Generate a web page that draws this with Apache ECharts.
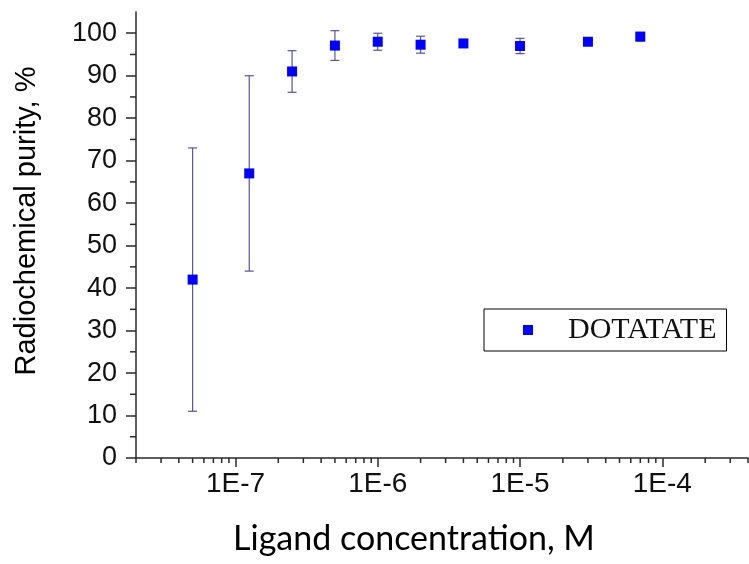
<!DOCTYPE html>
<html>
<head>
<meta charset="utf-8">
<script src="https://cdn.jsdelivr.net/npm/echarts@6/dist/echarts.min.js"></script>
<style>
  html, body { margin: 0; padding: 0; background: #fff; }
  #chart { width: 749px; height: 564px; }
</style>
</head>
<body>
<div id="chart"></div>
<script>
// data
const concentrations = [5e-8, 1.25e-7, 2.5e-7, 5e-7, 1e-6, 2e-6, 4e-6, 1e-5, 3e-5, 7e-5];
const purity = [42, 67, 91, 97.1, 98, 97.3, 97.6, 97.0, 98, 99.2];
const purityErr = [31, 23, 4.9, 3.5, 2, 2, 0.8, 1.8, 0.8, 1];

// axis ticks
const xTickValues = [1e-7, 1e-6, 1e-5, 1e-4];
const xTickLabels = ['1E-7', '1E-6', '1E-5', '1E-4'];
const xDecades = [1e-8, 1e-7, 1e-6, 1e-5, 1e-4];
const xMinorSteps = [2, 3, 4, 5, 6, 7, 8, 9];
const yTickValues = [0, 10, 20, 30, 40, 50, 60, 70, 80, 90, 100];
const yMinorValues = [5, 15, 25, 35, 45, 55, 65, 75, 85, 95];

const X_MIN = 2e-8, X_MAX = 4e-4;

const xMinorValues = [];
xDecades.forEach(d => xMinorSteps.forEach(s => {
  const v = +(d * s).toPrecision(3);
  if (v >= X_MIN && v <= X_MAX) xMinorValues.push(v);
}));

const scatterData = concentrations.map((x, i) => [x, purity[i]]);
const errData = concentrations.map((x, i) => [x, purity[i] - purityErr[i], purity[i] + purityErr[i]]);

const axisColor = '#2a2a2a';
const chart = echarts.init(document.getElementById('chart'));

const option = {
  animation: false,
  backgroundColor: '#fff',
  grid: { left: 136, right: 1, top: 12, bottom: 106, containLabel: false, outerBoundsMode: 'none' },
  legend: {
    data: ['DOTATATE'],
    left: 484, top: 309,
    orient: 'horizontal',
    icon: 'rect',
    itemWidth: 10, itemHeight: 10,
    padding: [6, 10, 6, 39],
    borderColor: '#000', borderWidth: 1,
    textStyle: {
      fontFamily: 'Liberation Serif', fontSize: 30, color: '#111',
      lineHeight: 27, padding: [0, 0, 0, 30]
    }
  },
  xAxis: {
    type: 'log', logBase: 10,
    min: X_MIN, max: X_MAX,
    name: 'Ligand concentration, M',
    nameLocation: 'middle', nameGap: 64,
    nameTextStyle: { fontFamily: 'Lato', fontSize: 34, color: '#000', padding: [0, 56, 0, 0] },
    axisLine: { lineStyle: { color: axisColor, width: 1.5 } },
    axisTick: { customValues: xTickValues, length: 9, lineStyle: { color: axisColor, width: 1.5 } },
    axisLabel: {
      customValues: xTickValues,
      margin: 12,
      fontFamily: 'Liberation Sans', fontSize: 28, color: '#111',
      formatter: v => {
        let k = 0;
        xTickValues.forEach((t, i) => { if (Math.abs(Math.log10(t) - Math.log10(v)) < 0.01) k = i; });
        return xTickLabels[k];
      }
    },
    splitLine: { show: false },
    minorTick: { show: false }
  },
  yAxis: {
    type: 'value',
    min: 0, max: 105, interval: 10,
    name: 'Radiochemical purity, %',
    nameLocation: 'middle', nameGap: 95, nameRotate: 90,
    nameTextStyle: { fontFamily: 'Liberation Sans', fontSize: 29, color: '#000', padding: [0, 0, 0, 28] },
    axisLine: { show: true, lineStyle: { color: axisColor, width: 1.5 } },
    axisTick: { show: true, customValues: yTickValues, length: 10, lineStyle: { color: axisColor, width: 1.5 } },
    axisLabel: {
      customValues: yTickValues,
      margin: 19,
      fontFamily: 'Liberation Sans', fontSize: 27, color: '#111'
    },
    splitLine: { show: false }
  },
  series: [
    {
      name: 'errors',
      type: 'custom',
      data: errData,
      encode: { x: 0, y: [1, 2] },
      z: 1,
      renderItem: (params, api) => {
        const x = api.value(0);
        const lo = api.coord([x, api.value(1)]);
        const hi = api.coord([x, api.value(2)]);
        const hw = 4.5;
        const style = { stroke: '#55559e', lineWidth: 1.2 };
        return {
          type: 'group',
          children: [
            { type: 'line', shape: { x1: lo[0], y1: lo[1], x2: hi[0], y2: hi[1] }, style },
            { type: 'line', shape: { x1: lo[0] - hw, y1: lo[1], x2: lo[0] + hw, y2: lo[1] }, style },
            { type: 'line', shape: { x1: hi[0] - hw, y1: hi[1], x2: hi[0] + hw, y2: hi[1] }, style }
          ]
        };
      }
    },
    {
      name: 'DOTATATE',
      type: 'scatter',
      symbol: 'rect',
      symbolSize: 10,
      itemStyle: { color: '#0000ff', opacity: 1 },
      data: scatterData,
      z: 3
    },
    {
      name: 'xMinor',
      type: 'custom',
      silent: true,
      data: xMinorValues.map(v => [v, 0]),
      renderItem: (params, api) => {
        const p = api.coord([api.value(0), 0]);
        return { type: 'line', shape: { x1: p[0], y1: p[1], x2: p[0], y2: p[1] + 5 },
          style: { stroke: axisColor, lineWidth: 1.5 } };
      }
    },
    {
      name: 'yMinor',
      type: 'custom',
      silent: true,
      data: yMinorValues.map(v => [X_MIN, v]),
      renderItem: (params, api) => {
        const p = api.coord([X_MIN, api.value(1)]);
        return { type: 'line', shape: { x1: p[0] - 6, y1: p[1], x2: p[0], y2: p[1] },
          style: { stroke: axisColor, lineWidth: 1.5 } };
      }
    }
  ]
};
chart.setOption(option);
</script>
</body>
</html>
